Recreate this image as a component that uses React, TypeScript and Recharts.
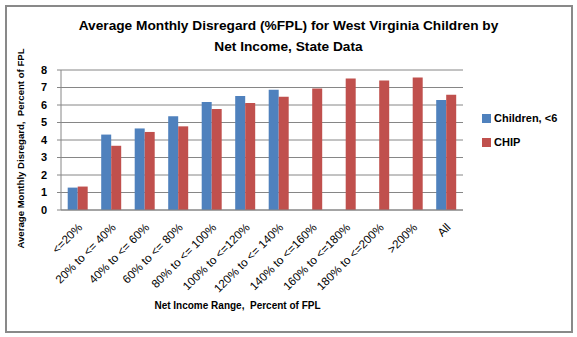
import { BarChart, Bar, XAxis, YAxis, CartesianGrid } from "recharts";

const categories = [
  "<=20%", "20% to <= 40%", "40% to <= 60%", "60% to <= 80%", "80% to <= 100%",
  "100% to <=120%", "120% to <= 140%", "140% to <=160%", "160% to <=180%",
  "180% to <=200%", ">200%", "All",
];
const childrenUnder6 = [1.28, 4.31, 4.66, 5.36, 6.17, 6.52, 6.87, null, null, null, null, 6.29];
const chip = [1.34, 3.67, 4.46, 4.78, 5.77, 6.12, 6.47, 6.95, 7.51, 7.40, 7.57, 6.58];
const yTicks = [0, 1, 2, 3, 4, 5, 6, 7, 8];

const BLUE = "#4F81BD";
const RED = "#C0504D";
const GRID = "#868686";
const FONT = "'Liberation Sans', Arial, sans-serif";

const data = categories.map((name, i) => ({
  name,
  children: childrenUnder6[i],
  chip: chip[i],
}));

const XTick = (props: any) => {
  const { x, y, payload } = props;
  return (
    <text
      x={x + 2}
      y={y + 7}
      transform={`rotate(-45, ${x + 2}, ${y + 7})`}
      textAnchor="end"
      dominantBaseline="central"
      fontSize={11.6}
      fontFamily={FONT}
      fill="#000"
    >
      {payload.value}
    </text>
  );
};

const legendItems = [
  { label: "Children, <6", color: BLUE },
  { label: "CHIP", color: RED },
];

export default function App() {
  return (
    <div style={{ position: "absolute", left: 0, top: 0, width: 577, height: 337, background: "#fff" }}>
      <div
        style={{
          position: "absolute", left: 5, top: 5, width: 564, height: 324,
          border: "2px solid #898989",
        }}
      />
      <div
        style={{
          position: "absolute", left: 0, top: 15, width: 577, textAlign: "center",
          fontFamily: FONT, fontWeight: 700, fontSize: 13.7, lineHeight: "21px",
        }}
      >
        Average Monthly Disregard (%FPL) for West Virginia Children by
        <br />
        Net Income, State Data
      </div>
      <div
        style={{
          position: "absolute", left: 0, top: 300, width: 475, textAlign: "center",
          fontFamily: FONT, fontWeight: 700, fontSize: 10,
        }}
      >
        Net Income Range,&nbsp; Percent of FPL
      </div>
      <div style={{ position: "absolute", left: 20, top: 150, width: 0, height: 0 }}>
        <div
          style={{
            position: "absolute", left: -150, top: -7, width: 300, textAlign: "center",
            transform: "rotate(-90deg)", fontFamily: FONT, fontWeight: 700, fontSize: 9.6,
            whiteSpace: "nowrap",
          }}
        >
          Average Monthly Disregard,&nbsp; Percent of FPL
        </div>
      </div>
      <div style={{ position: "absolute", left: 482, top: 112, fontFamily: FONT, fontSize: 11, fontWeight: 700 }}>
        {legendItems.map((it) => (
          <div key={it.label} style={{ display: "flex", alignItems: "center", height: 12, marginBottom: 12 }}>
            <span style={{ display: "inline-block", width: 9, height: 9, background: it.color, marginRight: 3 }} />
            <span>{it.label}</span>
          </div>
        ))}
      </div>
      <BarChart
        width={577}
        height={337}
        data={data}
        margin={{ top: 70, right: 114, left: 0, bottom: 0 }}
        barCategoryGap="20%"
        barGap={0}
        style={{ position: "absolute", left: 0, top: 0 }}
      >
        <CartesianGrid vertical={false} stroke={GRID} strokeWidth={1} />
        <XAxis
          dataKey="name"
          interval={0}
          tick={<XTick />}
          tickLine={false}
          axisLine={{ stroke: GRID }}
          height={127}
        />
        <YAxis
          width={61}
          domain={[0, 8]}
          ticks={yTicks}
          interval={0}
          axisLine={{ stroke: GRID }}
          tickLine={{ stroke: GRID }}
          tickSize={4}
          tickMargin={10}
          tick={{ fontSize: 11, fontWeight: 700, fontFamily: FONT, fill: "#000" }}
        />
        <Bar dataKey="children" name="Children, <6" fill={BLUE} isAnimationActive={false} />
        <Bar dataKey="chip" name="CHIP" fill={RED} isAnimationActive={false} />
      </BarChart>
    </div>
  );
}
